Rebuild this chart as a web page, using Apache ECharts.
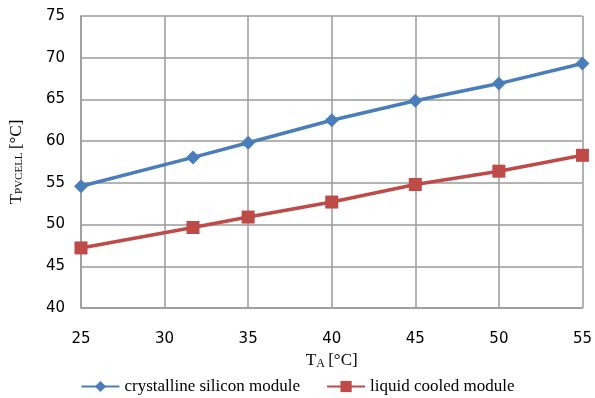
<!DOCTYPE html>
<html>
<head>
<meta charset="utf-8">
<script src="https://cdn.jsdelivr.net/npm/echarts@6/dist/echarts.min.js"></script>
<style>
  html, body { margin: 0; padding: 0; background: #fff; }
  #chart { width: 595px; height: 398px; }
</style>
</head>
<body>
<div id="chart"></div>
<script>
// ambient temperature TA [°C]
var ambientTemp = [25, 31.7, 35, 40, 45, 50, 55];
// cell temperature, crystalline silicon module
var siliconTemp = [54.6, 58.05, 59.8, 62.5, 64.85, 66.9, 69.3];
// cell temperature, liquid cooled module
var cooledTemp = [47.2, 49.65, 50.9, 52.7, 54.8, 56.4, 58.3];

function pairs(xs, ys) {
  return xs.map(function (x, i) { return [x, ys[i]]; });
}

var myChart = echarts.init(document.getElementById("chart"));

var gridColor = "#9a9a9a";
var serif = "'Liberation Serif', 'DejaVu Serif', serif";
var sans = "'DejaVu Sans', sans-serif";

myChart.setOption({
  animation: false,
  grid: {
    left: 79,
    right: 11,
    top: 16,
    bottom: 90,
  },
  legend: {
    top: 378,
    left: "center",
    padding: 0,
    itemWidth: 38,
    itemHeight: 14,
    itemGap: 26,
    textStyle: {
      fontFamily: serif,
      fontSize: 17,
      color: "#000",
    },
    data: ["crystalline silicon module", "liquid cooled module"],
  },
  xAxis: {
    type: "value",
    min: 25,
    max: 55,
    interval: 5,
    name: "{a|T}{b|A} {a|[°C]}",
    nameLocation: "middle",
    nameGap: 42,
    nameTextStyle: {
      rich: {
        a: { fontFamily: serif, fontSize: 17, color: "#000" },
        b: { fontFamily: serif, fontSize: 12, color: "#000", verticalAlign: "bottom", padding: [6, 0, 0, 0] },
      },
    },
    axisLine: { lineStyle: { color: gridColor, width: 1.5 } },
    axisTick: { show: false },
    axisLabel: {
      margin: 24,
      fontFamily: sans,
      fontSize: 15,
      color: "#000",
    },
    splitLine: { lineStyle: { color: gridColor, width: 1.5 } },
  },
  yAxis: {
    type: "value",
    min: 40,
    max: 75,
    interval: 5,
    name: "{a|T}{b|PVCELL} {a|[°C]}",
    nameLocation: "middle",
    nameGap: 56,
    nameTextStyle: {
      rich: {
        a: { fontFamily: serif, fontSize: 17, color: "#000" },
        b: { fontFamily: serif, fontSize: 11, color: "#000", verticalAlign: "bottom", padding: [6, 0, 0, 0] },
      },
    },
    axisLine: { show: true, lineStyle: { color: gridColor, width: 1.5 } },
    axisTick: { show: false },
    axisLabel: {
      margin: 16,
      fontFamily: sans,
      fontSize: 15,
      color: "#000",
    },
    splitLine: { lineStyle: { color: gridColor, width: 1.5 } },
  },
  series: [
    {
      name: "crystalline silicon module",
      type: "line",
      data: pairs(ambientTemp, siliconTemp),
      symbol: "diamond",
      symbolSize: 14,
      lineStyle: { color: "#4a7ebb", width: 3.5 },
      itemStyle: { color: "#4a7ebb" },
    },
    {
      name: "liquid cooled module",
      type: "line",
      data: pairs(ambientTemp, cooledTemp),
      symbol: "rect",
      symbolSize: 13,
      lineStyle: { color: "#be4b48", width: 3.5 },
      itemStyle: { color: "#be4b48" },
    },
  ],
});
window.addEventListener("resize", function () {
  myChart.resize();
});
</script>
</body>
</html>
